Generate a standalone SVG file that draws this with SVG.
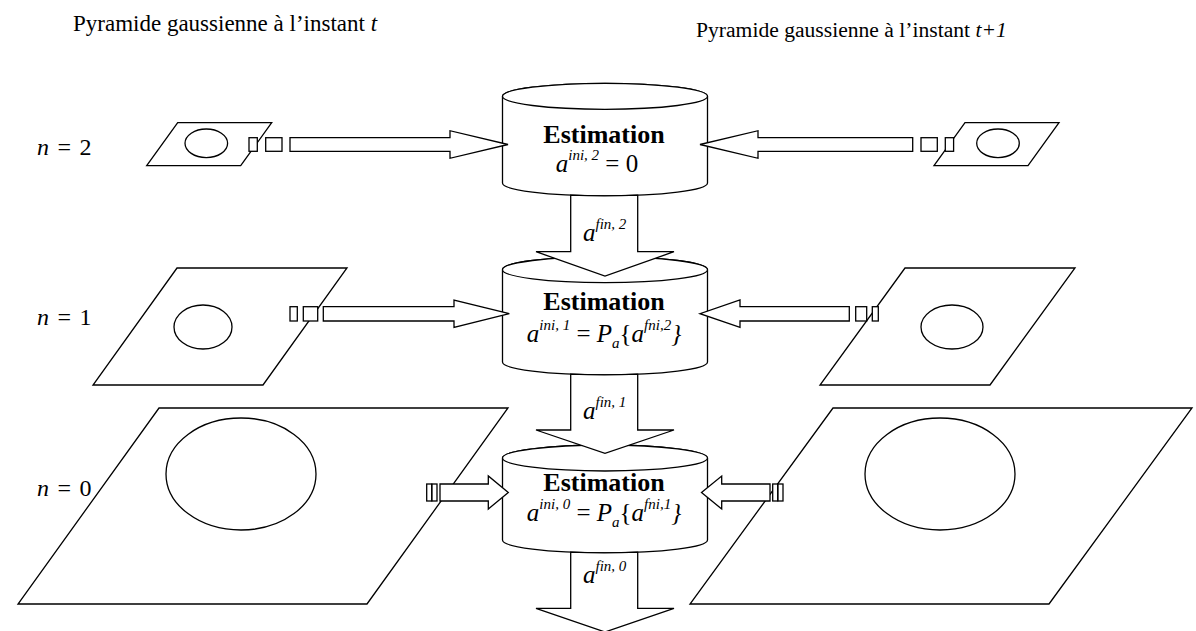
<svg xmlns="http://www.w3.org/2000/svg" width="1196" height="631" viewBox="0 0 1196 631">
<style>
.s{fill:#fff;stroke:#000;stroke-width:1.3}
text{font-family:"Liberation Serif","Times New Roman",serif;fill:#000}
.t{font-size:23px}
.t2{font-size:21.6px}
.n{font-size:24px;word-spacing:2.5px}
.b{font-size:26px;font-weight:bold}
.e{font-size:25px}
.i{font-style:italic}
.sup{font-size:15px;font-style:italic}
</style>
<rect width="1196" height="631" fill="#fff"/>
<text class="t" x="73" y="31">Pyramide gaussienne à l’instant <tspan class="i">t</tspan></text>
<text class="t2" x="696" y="37">Pyramide gaussienne à l’instant <tspan class="i">t+1</tspan></text>
<text class="n" x="37" y="155"><tspan class="i">n</tspan> = 2</text>
<text class="n" x="37" y="325"><tspan class="i">n</tspan> = 1</text>
<text class="n" x="37" y="496"><tspan class="i">n</tspan> = 0</text>

<g id="img-t-2">
<polygon class="s" points="177.7,122.7 271.7,122.7 240.7,165.7 146.7,165.7"/>
<ellipse class="s" cx="206.3" cy="143.3" rx="21.3" ry="14.3"/>
</g>
<g id="img-t1-2">
<polygon class="s" points="965,122.7 1059,122.7 1028,165.7 934,165.7"/>
<ellipse class="s" cx="998" cy="143.3" rx="21.3" ry="14.3"/>
</g>
<g id="img-t-1">
<polygon class="s" points="177,268 347,268 263,385 93,385"/>
<ellipse class="s" cx="203" cy="327" rx="29" ry="22"/>
</g>
<g id="img-t1-1">
<polygon class="s" points="905,268 1075,268 990,385 820,385"/>
<ellipse class="s" cx="952" cy="327" rx="31" ry="22"/>
</g>
<g id="img-t-0">
<polygon class="s" points="159,408 508,408 367,604 18,604"/>
<ellipse class="s" cx="241" cy="474" rx="75" ry="56"/>
</g>
<g id="img-t1-0">
<polygon class="s" points="833,408 1192,408 1049,604 690,604"/>
<ellipse class="s" cx="940" cy="474" rx="75" ry="56"/>
</g>

<g id="est-2">
<path class="s" d="M502.5,96.3 L502.5,183 A102.5,13 0 0 0 707.5,183 L707.5,96.3 A102.5,13 0 0 0 502.5,96.3 Z"/>
<ellipse class="s" cx="605" cy="96.3" rx="102.5" ry="13"/>
<text class="b" x="604" y="143" text-anchor="middle">Estimation</text>
<text class="e" x="597" y="172" text-anchor="middle"><tspan class="i">a</tspan><tspan class="sup" dy="-12">ini, 2</tspan><tspan dy="12"> = 0</tspan></text>
</g>
<g id="est-1">
<path class="s" d="M502.5,269.7 L502.5,362 A102.5,13 0 0 0 707.5,362 L707.5,269.7 A102.5,13 0 0 0 502.5,269.7 Z"/>
<ellipse class="s" cx="605" cy="269.7" rx="102.5" ry="13"/>
<text class="b" x="604" y="310" text-anchor="middle">Estimation</text>
<text class="e" x="604" y="342" text-anchor="middle"><tspan class="i">a</tspan><tspan class="sup" dy="-12">ini, 1</tspan><tspan dy="12"> = </tspan><tspan class="i">P</tspan><tspan class="sup" dy="6">a</tspan><tspan dy="-6">{</tspan><tspan class="i">a</tspan><tspan class="sup" dy="-12">fni,2</tspan><tspan class="i" dy="12">}</tspan></text>
</g>
<g id="est-0">
<path class="s" d="M502.5,458 L502.5,540 A102.5,13 0 0 0 707.5,540 L707.5,458 A102.5,13 0 0 0 502.5,458 Z"/>
<ellipse class="s" cx="605" cy="458" rx="102.5" ry="13"/>
<text class="b" x="604" y="491" text-anchor="middle">Estimation</text>
<text class="e" x="604" y="521" text-anchor="middle"><tspan class="i">a</tspan><tspan class="sup" dy="-12">ini, 0</tspan><tspan dy="12"> = </tspan><tspan class="i">P</tspan><tspan class="sup" dy="6">a</tspan><tspan dy="-6">{</tspan><tspan class="i">a</tspan><tspan class="sup" dy="-12">fni,1</tspan><tspan class="i" dy="12">}</tspan></text>
</g>

<g id="connectors">
<rect class="s" x="249" y="137.7" width="8.3" height="13.6"/>
<rect class="s" x="265.7" y="137.7" width="16.3" height="13.6"/>
<path class="s" d="M290,137.7 H450 V130.7 L508,144.5 L450,158.3 V151.3 H290 Z"/>
<path class="s" d="M912.7,137.7 H758 V130.7 L700,144.5 L758,158.3 V151.3 H912.7 Z"/>
<rect class="s" x="921" y="137.7" width="16.3" height="13.6"/>
<rect class="s" x="945.3" y="137.7" width="8.3" height="13.6"/>
<rect class="s" x="290" y="306.7" width="7.3" height="14.3"/>
<rect class="s" x="303.3" y="306.7" width="14.4" height="14.3"/>
<path class="s" d="M323.3,306.7 H454 V300 L509.3,313.7 L454,327.3 V321 H323.3 Z"/>
<path class="s" d="M849.3,306.7 H740 V300 L700,313.7 L740,327.3 V321 H849.3 Z"/>
<rect class="s" x="855.7" y="306.7" width="11" height="14.3"/>
<rect class="s" x="872.3" y="306.7" width="6" height="14.3"/>
<rect class="s" x="426.7" y="484" width="5" height="17"/>
<rect class="s" x="432" y="484" width="5" height="17"/>
<path class="s" d="M440,484 H488.3 V476 L508.3,492.5 L488.3,509 V501 H440 Z"/>
<path class="s" d="M770,484 H721.7 V476 L701.5,492.5 L721.7,509 V501 H770 Z"/>
<rect class="s" x="772.7" y="484" width="5" height="17"/>
<rect class="s" x="778" y="484" width="5" height="17"/>
<path class="s" d="M570.7,195.2 A102.5,13 0 0 0 637.7,195.2 V251.7 H674 L605,276 L536,251.7 H570.7 Z"/>
<path class="s" d="M570.7,374.2 A102.5,13 0 0 0 637.7,374.2 V430 H674 L605,453.3 L536,430 H570.7 Z"/>
<path class="s" d="M570.7,552.2 A102.5,13 0 0 0 637.7,552.2 V608.3 H674 L605,632 L536,608.3 H570.7 Z"/>
<text class="e" x="583" y="241"><tspan class="i">a</tspan><tspan class="sup" dy="-12">fin, 2</tspan></text>
<text class="e" x="583" y="419"><tspan class="i">a</tspan><tspan class="sup" dy="-12">fin, 1</tspan></text>
<text class="e" x="583" y="583"><tspan class="i">a</tspan><tspan class="sup" dy="-12">fin, 0</tspan></text>
</g>
</svg>
